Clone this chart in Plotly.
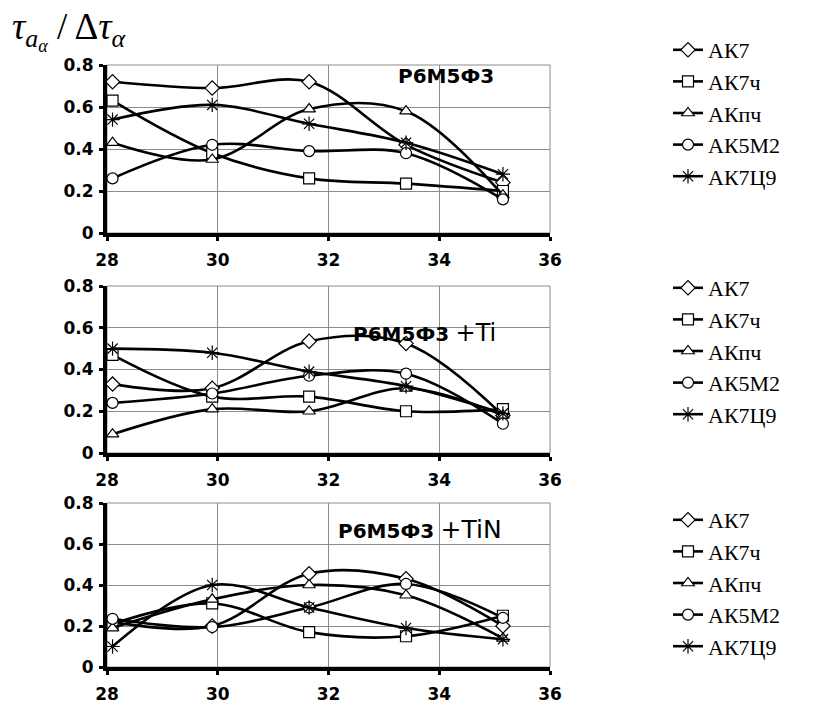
import plotly.graph_objects as go

W, H = 823, 706
ML, MR, MT, MB = 30, 10, 30, 10
PW, PH = W - ML - MR, H - MT - MB
BODY = 8  # default page margin offset of the rendered page


def fx(px):
    return (px - BODY - ML) / PW


def fy(py):
    return 1 - (py - BODY - MT) / PH


x_vals = [28.1, 29.9, 31.65, 33.4, 35.15]
series_names = ["АК7", "АК7ч", "АКпч", "АК5М2", "АК7Ц9"]
symbols = ["diamond", "square", "triangle-up", "circle", "asterisk-open"]

panel1 = {
    "АК7":   [0.72, 0.69, 0.72, 0.42, 0.24],
    "АК7ч":  [0.63, 0.38, 0.26, 0.235, 0.20],
    "АКпч":  [0.43, 0.35, 0.59, 0.58, 0.18],
    "АК5М2": [0.26, 0.42, 0.39, 0.38, 0.16],
    "АК7Ц9": [0.54, 0.61, 0.52, 0.43, 0.28],
}
panel2 = {
    "АК7":   [0.33, 0.31, 0.535, 0.525, 0.18],
    "АК7ч":  [0.47, 0.27, 0.27, 0.20, 0.21],
    "АКпч":  [0.09, 0.21, 0.20, 0.31, 0.18],
    "АК5М2": [0.24, 0.285, 0.37, 0.38, 0.14],
    "АК7Ц9": [0.50, 0.48, 0.39, 0.32, 0.19],
}
panel3 = {
    "АК7":   [0.22, 0.20, 0.455, 0.43, 0.20],
    "АК7ч":  [0.21, 0.31, 0.17, 0.15, 0.25],
    "АКпч":  [0.19, 0.33, 0.40, 0.35, 0.14],
    "АК5М2": [0.235, 0.195, 0.29, 0.405, 0.24],
    "АК7Ц9": [0.10, 0.40, 0.29, 0.19, 0.135],
}
panels = [panel1, panel2, panel3]
panel_titles = [
    "<b>Р6М5Ф3</b>",
    "<b>Р6М5Ф3</b> <span style='font-size:24px'>+Ti</span>",
    "<b>Р6М5Ф3</b> <span style='font-size:25px'>+TiN</span>",
]
x_ticks = [28, 30, 32, 34, 36]
y_ticks = [0, 0.2, 0.4, 0.6, 0.8]

# target pixel layout of plot areas (left, right, top(0.8), bottom(0))
px_x = (107, 550)
px_y = [(65, 233), (286, 453), (503, 667)]
legend_tops = [29, 267, 499]
title_pos = [(446, 76), (424, 333), (420, 529)]

fig = go.Figure()

for i, (panel, (ytop, ybot)) in enumerate(zip(panels, px_y)):
    n = "" if i == 0 else str(i + 1)
    xa = "x" + n
    ya = "y" + n
    leg = "legend" + n
    for name, sym in zip(series_names, symbols):
        is_ast = sym == "asterisk-open"
        fig.add_trace(go.Scatter(
            x=x_vals, y=panel[name], name=name,
            mode="lines+markers",
            line=dict(color="black", width=2.6, shape="spline", smoothing=1.0),
            marker=dict(symbol=sym, size=11 if not is_ast else 12,
                        color="white" if not is_ast else "black",
                        line=dict(color="black", width=1.2)),
            xaxis=xa, yaxis=ya, legend=leg, legendgroup=f"{i}-{name}",
        ))
    axis_common = dict(showgrid=True, gridcolor="#8c8c8c", gridwidth=1,
                       showline=True, linecolor="black", linewidth=4,
                       ticks="outside", tickcolor="black", ticklen=4, tickwidth=3,
                       tickfont=dict(family="DejaVu Sans", size=17, color="black", weight="bold"),
                       zeroline=False, fixedrange=True)
    fig.update_layout(**{
        ("xaxis" + n): dict(domain=[fx(px_x[0]), fx(px_x[1])], range=[28, 36],
                            tickvals=x_ticks, anchor=ya, ticklabelstandoff=5,
                            **axis_common),
        ("yaxis" + n): dict(domain=[fy(ybot), fy(ytop)], range=[0, 0.8],
                            tickvals=y_ticks, ticktext=["0", "0.2", "0.4", "0.6", "0.8"],
                            anchor=xa, ticklabelstandoff=2, **axis_common),
        leg: dict(x=fx(668), y=fy(legend_tops[i]), xanchor="left", yanchor="top",
                  font=dict(family="Liberation Serif", size=22, color="black"),
                  bgcolor="rgba(0,0,0,0)", tracegroupgap=0, itemwidth=30),
    })
    # border (top/right) in grey
    fig.add_shape(type="rect", xref=xa + " domain", yref=ya + " domain",
                  x0=0, x1=1, y0=0, y1=1, line=dict(color="#8c8c8c", width=1),
                  layer="below")
    tx, ty = title_pos[i]
    fig.add_annotation(x=fx(tx), y=fy(ty), xref="paper", yref="paper",
                       xanchor="center", yanchor="middle",
                       text=panel_titles[i], showarrow=False,
                       font=dict(family="DejaVu Sans", size=20, color="black"))

fig.add_annotation(x=fx(10), y=fy(31), xref="paper", yref="paper",
                   xanchor="left", yanchor="middle",
                   text="<i>τ</i><sub><i>a</i><sub><i>α</i></sub></sub> / Δ<i>τ</i><sub><i>α</i></sub>",
                   showarrow=False,
                   font=dict(family="Liberation Serif", size=37, color="black"))

fig.update_layout(width=W, height=H, margin=dict(l=ML, r=MR, t=MT, b=MB, autoexpand=False),
                  paper_bgcolor="white", plot_bgcolor="white")

fig.write_html("out.html")
